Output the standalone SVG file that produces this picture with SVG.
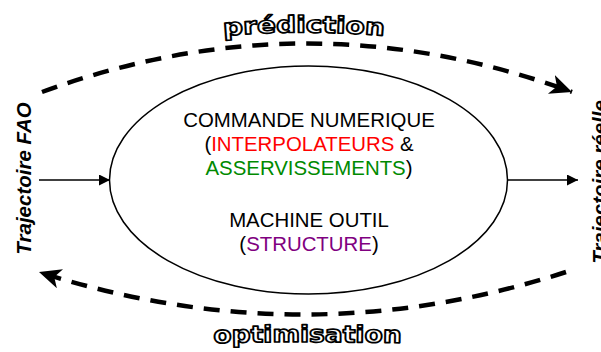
<svg xmlns="http://www.w3.org/2000/svg" width="601" height="352" viewBox="0 0 601 352">
<style>
.main{font-family:"Liberation Sans",Arial,sans-serif;font-size:20.4px;text-anchor:middle;fill:#000}
.side{font-family:"Liberation Sans",Arial,sans-serif;font-size:20.5px;font-weight:bold;font-style:italic;text-anchor:middle;fill:#000}
.outl{font-family:"DejaVu Sans",sans-serif;font-size:23px;font-weight:bold;fill:#fff;stroke:#000;stroke-width:1.7px;stroke-linejoin:round;text-anchor:middle}
.dash{fill:none;stroke:#000;stroke-width:4.5;stroke-dasharray:16 11}
.solid{fill:none;stroke:#000;stroke-width:1.5}
.red{fill:#ff0000}.green{fill:#008a00}.purple{fill:#800080}
</style>
<defs>
<marker id="stealth" markerUnits="userSpaceOnUse" markerWidth="30" markerHeight="30" refX="22" refY="10" orient="auto">
<path d="M22,10 L0,0 L6,10 L0,20 Z" fill="#000"/>
</marker>
<marker id="tri" markerUnits="userSpaceOnUse" markerWidth="14" markerHeight="14" refX="11" refY="5.5" orient="auto">
<path d="M0,0 L11,5.5 L0,11 Z" fill="#000"/>
</marker>
<path id="p1" d="M 222 36 Q 304 29 386 36"/>
<path id="p2" d="M 212 343 Q 307.5 341 403 343"/>
</defs>
<g id="connectors">
<path class="dash" d="M 42 92 Q 307 -5 572 92" marker-end="url(#stealth)"/>
<path class="dash" d="M 566 272 Q 303 357 39 272" marker-end="url(#stealth)"/>
<line class="solid" x1="39" y1="180" x2="110" y2="180" marker-end="url(#tri)"/>
<line class="solid" x1="507" y1="180" x2="578" y2="180" marker-end="url(#tri)"/>
</g>
<g id="cnc">
<ellipse cx="308.5" cy="180" rx="199" ry="114" fill="#fff" stroke="#000" stroke-width="1.5"/>
<text class="main" x="309" y="127">COMMANDE NUMERIQUE</text>
<text class="main" x="309" y="151">(<tspan class="red">INTERPOLATEURS</tspan> &amp;</text>
<text class="main" x="309" y="175"><tspan class="green">ASSERVISSEMENTS</tspan>)</text>
<text class="main" x="309" y="227">MACHINE OUTIL</text>
<text class="main" x="309" y="251">(<tspan class="purple">STRUCTURE</tspan>)</text>
</g>
<g id="fao">
<text class="side" transform="translate(31 178.5) rotate(-90)">Trajectoire FAO</text>
</g>
<g id="reelle">
<text class="side" transform="translate(607 182) rotate(-90)">Trajectoire réelle</text>
</g>
<g id="prediction">
<text class="outl"><textPath href="#p1" startOffset="50%" textLength="161" lengthAdjust="spacingAndGlyphs">prédiction</textPath></text>
</g>
<g id="optimisation">
<text class="outl"><textPath href="#p2" startOffset="50%" textLength="188" lengthAdjust="spacingAndGlyphs">optimisation</textPath></text>
</g>
</svg>
